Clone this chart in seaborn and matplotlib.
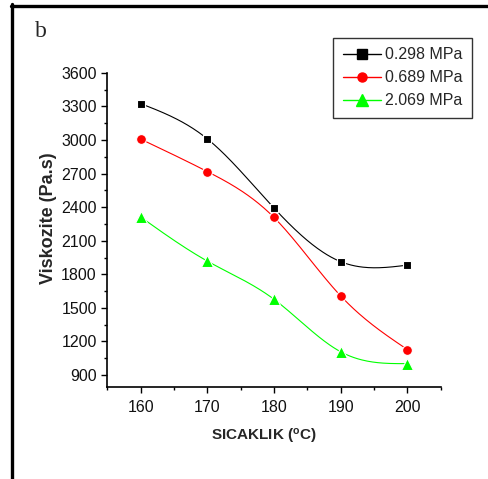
import numpy as np
import pandas as pd
import seaborn as sns
import matplotlib.pyplot as plt
from matplotlib.lines import Line2D
from matplotlib.ticker import MultipleLocator

# veriler
sicaklik = [160, 170, 180, 190, 200]
p_0298 = [3325, 3010, 2392, 1913, 1882]
p_0689 = [3008, 2718, 2308, 1607, 1128]
p_2069 = [2312, 1918, 1577, 1108, 1002]
etiketler = ['0.298 MPa', '0.689 MPa', '2.069 MPa']
renkler = ['black', '#ff0000', '#00ff00']
isaretler = ['s', 'o', '^']


def dogal_spline(x, y, n=200):
    # dogal kubik spline (Origin'deki yumusak cizgi icin)
    x = np.asarray(x, float)
    y = np.asarray(y, float)
    k = len(x)
    h = np.diff(x)
    A = np.zeros((k, k))
    b = np.zeros(k)
    A[0, 0] = A[-1, -1] = 1
    for i in range(1, k - 1):
        A[i, i - 1] = h[i - 1]
        A[i, i] = 2 * (h[i - 1] + h[i])
        A[i, i + 1] = h[i]
        b[i] = 6 * ((y[i + 1] - y[i]) / h[i] - (y[i] - y[i - 1]) / h[i - 1])
    M = np.linalg.solve(A, b)
    xs = np.linspace(x[0], x[-1], n)
    idx = np.clip(np.searchsorted(x, xs) - 1, 0, k - 2)
    x0, x1 = x[idx], x[idx + 1]
    hh = x1 - x0
    ys = (M[idx] * (x1 - xs) ** 3 / (6 * hh) + M[idx + 1] * (xs - x0) ** 3 / (6 * hh)
          + (y[idx] / hh - M[idx] * hh / 6) * (x1 - xs)
          + (y[idx + 1] / hh - M[idx + 1] * hh / 6) * (xs - x0))
    return xs, ys


sns.set_style('ticks')
plt.rcParams['font.family'] = ['Liberation Sans', 'DejaVu Sans']
plt.rcParams['mathtext.default'] = 'regular'

fig = plt.figure(figsize=(4.89, 4.79), dpi=100)
ax = fig.add_axes([0.2194, 0.192, 0.6818, 0.656])

handles = []
for seri, lab, c, m in zip([p_0298, p_0689, p_2069], etiketler, renkler, isaretler):
    xs, ys = dogal_spline(sicaklik, seri)
    sns.lineplot(x=xs, y=ys, ax=ax, color=c, linewidth=0.8, sort=False)
    boy = 40 if m == 's' else (50 if m == 'o' else 75)
    sns.scatterplot(x=sicaklik, y=seri, ax=ax, color=c, marker=m, s=boy,
                    edgecolor='white', linewidth=0.8, zorder=5)
    handles.append(Line2D([], [], color=c, marker=m, markersize=6.5 if m != '^' else 9,
                          linewidth=1, label=lab))

ax.set_xlim(155, 205)
ax.set_ylim(793, 3600)
ax.xaxis.set_major_locator(MultipleLocator(10))
ax.xaxis.set_minor_locator(MultipleLocator(5))
ax.yaxis.set_major_locator(MultipleLocator(300))
ax.yaxis.set_minor_locator(MultipleLocator(150))
ax.tick_params(which='major', length=4, width=1, labelsize=11.5, color='black', labelcolor='#111111')
ax.tick_params(which='minor', length=2.5, width=1, color='black')
ax.tick_params(axis='x', pad=5)
sns.despine(ax=ax)
for s in ['left', 'bottom']:
    ax.spines[s].set_linewidth(1.2)
    ax.spines[s].set_color('black')

ax.set_xlabel('SICAKLIK ($^{o}$C)', fontsize=11, fontweight='bold')
ax.set_ylabel('Viskozite (Pa.s)', fontsize=13, fontweight='bold')
ax.xaxis.set_label_coords(0.47, -0.128)
ax.yaxis.set_label_coords(-0.152, 0.538)

leg = fig.legend(handles=handles, loc='upper left', bbox_to_anchor=(0.681, 0.921),
                 fontsize=11.5, frameon=True, fancybox=False, edgecolor='black',
                 handlelength=2.4, handletextpad=0.25, labelspacing=0.5,
                 borderpad=0.6, borderaxespad=0)
leg.get_frame().set_linewidth(1)

fig.text(0.072, 0.922, 'b', fontsize=17, family=['Liberation Serif', 'DejaVu Serif'])

# dis cerceve (sol ve ust)
fig.add_artist(Line2D([12.5 / 489, 12.5 / 489], [0, 1 - 4 / 479], color='black', linewidth=2.4))
fig.add_artist(Line2D([11 / 489, 1], [1 - 5.5 / 479, 1 - 5.5 / 479], color='black', linewidth=2.4))

fig.savefig('out.png', dpi=100)
